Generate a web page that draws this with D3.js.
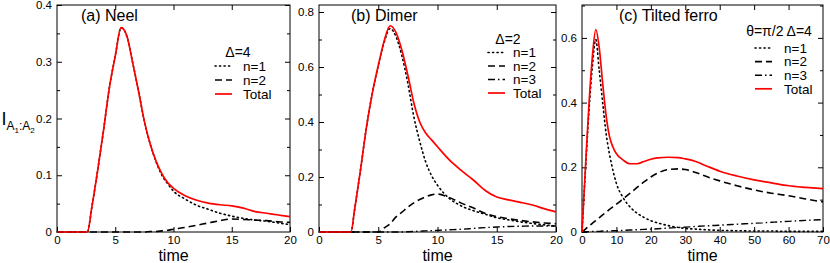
<!DOCTYPE html>
<html>
<head>
<meta charset="utf-8">
<style>
  body { margin: 0; background: #fff; }
  svg text { font-family: "Liberation Sans", Arial, Helvetica, sans-serif; fill: #000; }
</style>
</head>
<body>
<script src="https://cdn.jsdelivr.net/npm/d3@7"></script>
<script>
// ---- data ----
// (a) Neel, Delta=4
var tA = [0, 1, 2, 2.6, 3, 3.5, 4, 4.5, 5, 5.5, 6, 6.5, 7, 7.5, 8, 8.5, 9, 9.5, 10, 11, 12, 13, 14, 15, 16, 17, 18, 19, 20];
var aTotal = [0, 0, 0, 0, 0.045, 0.11, 0.18, 0.255, 0.31, 0.36, 0.345, 0.298, 0.248, 0.195, 0.155, 0.125, 0.103, 0.087, 0.077, 0.064, 0.056, 0.051, 0.048, 0.046, 0.042, 0.036, 0.033, 0.030, 0.027];
var aN1 = [0, 0, 0, 0, 0.045, 0.11, 0.18, 0.255, 0.31, 0.36, 0.345, 0.298, 0.248, 0.195, 0.155, 0.124, 0.1, 0.085, 0.072, 0.058, 0.047, 0.040, 0.033, 0.028, 0.024, 0.021, 0.019, 0.016, 0.013];
var aN2 = [0, 0, 0, 0, 0, 0, 0, 0, 0, 0, 0, 0, 0, 0, 0.001, 0.001, 0.002, 0.003, 0.005, 0.008, 0.012, 0.016, 0.02, 0.023, 0.022, 0.021, 0.02, 0.018, 0.017];

// (b) Dimer, Delta=2
var tB = [0, 1, 2, 2.7, 3, 3.5, 4, 4.5, 5, 5.5, 6, 6.5, 7, 7.5, 8, 8.5, 9, 9.5, 10, 11, 12, 13, 14, 15, 16, 17, 18, 19, 20];
var bTotal = [0, 0, 0, 0, 0.08, 0.225, 0.38, 0.505, 0.605, 0.695, 0.75, 0.725, 0.66, 0.57, 0.47, 0.4, 0.36, 0.335, 0.31, 0.262, 0.224, 0.19, 0.152, 0.127, 0.117, 0.108, 0.098, 0.085, 0.073];
var bN1 = [0, 0, 0, 0, 0.08, 0.225, 0.38, 0.505, 0.605, 0.69, 0.74, 0.71, 0.64, 0.54, 0.42, 0.33, 0.255, 0.205, 0.17, 0.122, 0.095, 0.078, 0.065, 0.052, 0.044, 0.037, 0.031, 0.026, 0.021];
var bN2 = [0, 0, 0, 0, 0, 0, 0, 0, 0, 0.015, 0.03, 0.055, 0.072, 0.09, 0.106, 0.118, 0.128, 0.135, 0.138, 0.125, 0.105, 0.088, 0.068, 0.056, 0.048, 0.042, 0.037, 0.033, 0.03];
var bN3 = [0, 0, 0, 0, 0, 0, 0, 0, 0, 0, 0, 0, 0, 0.001, 0.002, 0.003, 0.004, 0.005, 0.006, 0.008, 0.01, 0.013, 0.016, 0.018, 0.02, 0.021, 0.022, 0.022, 0.022];

// (c) Tilted ferro, theta=pi/2 Delta=4
var tC = [0, 1, 2, 3, 4, 5, 6, 7, 8, 9, 10, 12, 14, 16, 18, 20, 22, 25, 28, 30, 33, 36, 40, 45, 50, 55, 60, 65, 70];
var cTotal = [0, 0.2, 0.39, 0.54, 0.626, 0.57, 0.46, 0.36, 0.295, 0.262, 0.242, 0.222, 0.211, 0.211, 0.218, 0.225, 0.229, 0.231, 0.23, 0.226, 0.218, 0.205, 0.188, 0.173, 0.161, 0.152, 0.143, 0.138, 0.134];
var cN1 = [0, 0.19, 0.37, 0.51, 0.595, 0.5, 0.4, 0.305, 0.24, 0.19, 0.15, 0.105, 0.077, 0.058, 0.045, 0.035, 0.028, 0.02, 0.014, 0.011, 0.009, 0.007, 0.005, 0.004, 0.003, 0.003, 0.002, 0.002, 0.002];
var cN2 = [0, 0.009, 0.018, 0.027, 0.035, 0.044, 0.053, 0.061, 0.07, 0.078, 0.086, 0.103, 0.12, 0.138, 0.155, 0.17, 0.182, 0.193, 0.195, 0.193, 0.184, 0.172, 0.158, 0.143, 0.13, 0.12, 0.112, 0.102, 0.093];
var cN3 = [0, 0.001, 0.001, 0.002, 0.002, 0.002, 0.003, 0.003, 0.003, 0.004, 0.004, 0.005, 0.006, 0.007, 0.008, 0.009, 0.010, 0.012, 0.014, 0.015, 0.017, 0.019, 0.021, 0.024, 0.027, 0.030, 0.033, 0.036, 0.038];

var titles = ["(a) Neel", "(b) Dimer", "(c) Tilted ferro"];
var legendHeads = ["\u0394=4", "\u0394=2", "\u03b8=\u03c0/2 \u0394=4"];

// ---- styles ----
var styles = {
  n1: { stroke: "#000", width: 1.6, dash: "1.2,3.3", cap: "round" },
  n2: { stroke: "#000", width: 1.6, dash: "7,4", cap: "butt" },
  n3: { stroke: "#000", width: 1.4, dash: "7,3,1.5,3", cap: "butt" },
  total: { stroke: "#ff0000", width: 1.7, dash: null, cap: "butt" }
};
var labels = { n1: "n=1", n2: "n=2", n3: "n=3", total: "Total" };

var panels = [
  { left: 57, right: 290, top: 5, bottom: 232, xmax: 20, xstep: 5, ymax: 0.4, ystep: 0.1, yfmt: function(d){ return d === 0 ? "0" : d.toFixed(1); },
    t: tA, series: [["n1", aN1], ["n2", aN2], ["total", aTotal]],
    title: titles[0], titleX: 81,
    legend: { head: legendHeads[0], headX: 238, headY: 52, lineX: 215, textX: 240, y0: 66, dy: 14 } },
  { left: 319, right: 556, top: 5, bottom: 232, xmax: 20, xstep: 5, ymax: 0.8255, ystep: 0.2, yfmt: function(d){ return d === 0 ? "0" : d.toFixed(1); },
    t: tB, series: [["n1", bN1], ["n2", bN2], ["n3", bN3], ["total", bTotal]],
    title: titles[1], titleX: 351,
    legend: { head: legendHeads[1], headX: 508, headY: 39, lineX: 488, textX: 510, y0: 52.5, dy: 13.5 } },
  { left: 582, right: 823, top: 5, bottom: 232, xmax: 70, xstep: 10, ymax: 0.7017, ystep: 0.2, yfmt: function(d){ return d === 0 ? "0" : d.toFixed(1); },
    t: tC, series: [["n1", cN1], ["n2", cN2], ["n3", cN3], ["total", cTotal]],
    title: titles[2], titleX: 619,
    legend: { head: legendHeads[2], headX: 779, headY: 31, lineX: 755, textX: 781, y0: 48, dy: 13.6 } }
];

var W = 830, H = 263;
var svg = d3.select("body").append("svg")
    .attr("width", W)
    .attr("height", H);

panels.forEach(function(p) {
  var x = d3.scaleLinear().domain([0, p.xmax]).range([p.left, p.right]);
  var y = d3.scaleLinear().domain([0, p.ymax]).range([p.bottom, p.top]);
  var g = svg.append("g");

  var xt = d3.range(0, p.xmax + 1e-9, p.xstep);
  var yt = d3.range(0, p.ymax + 1e-9, p.ystep);
  var ytMinor = d3.range(p.ystep / 2, p.ymax, p.ystep);

  // frame
  g.append("rect")
      .attr("x", p.left).attr("y", p.top)
      .attr("width", p.right - p.left).attr("height", p.bottom - p.top)
      .attr("fill", "none").attr("stroke", "#000").attr("stroke-width", 1);

  // axes (ticks inside)
  var axB = d3.axisBottom(x).tickValues(xt).tickSize(-5).tickPadding(4).tickFormat(d3.format("d"));
  var axT = d3.axisTop(x).tickValues(xt.slice(1, -1)).tickSize(-5).tickFormat("");
  var axL = d3.axisLeft(y).tickValues(yt).tickSize(-5).tickPadding(5).tickFormat(p.yfmt);
  var axR = d3.axisRight(y).tickValues(yt.slice(1)).tickSize(-5).tickFormat("");
  var axLm = d3.axisLeft(y).tickValues(ytMinor).tickSize(-3).tickFormat("");
  var axRm = d3.axisRight(y).tickValues(ytMinor).tickSize(-3).tickFormat("");

  [[axB, 0, p.bottom], [axT, 0, p.top], [axL, p.left, 0], [axR, p.right, 0], [axLm, p.left, 0], [axRm, p.right, 0]].forEach(function(a) {
    var ag = g.append("g").attr("transform", "translate(" + a[1] + "," + a[2] + ")").call(a[0]);
    ag.select(".domain").remove();
    ag.selectAll("line").attr("stroke", "#000").attr("stroke-width", 1);
    ag.selectAll("text").attr("font-size", 11.5).attr("fill", "#000")
      .attr("font-family", "Liberation Sans, Arial, sans-serif");
  });

  // x label
  g.append("text")
      .attr("x", (p.left + p.right) / 2).attr("y", 260.5)
      .attr("text-anchor", "middle").attr("font-size", 16)
      .text("time");

  // title
  g.append("text")
      .attr("x", p.titleX).attr("y", 21)
      .attr("font-size", 16)
      .text(p.title);

  // curves
  var line = d3.line()
      .x(function(d) { return x(d[0]); })
      .y(function(d) { return y(d[1]); })
      .curve(d3.curveMonotoneX);

  p.series.forEach(function(s) {
    var st = styles[s[0]];
    var pts = p.t.map(function(t, i) { return [t, s[1][i]]; });
    g.append("path")
        .datum(pts)
        .attr("d", line)
        .attr("fill", "none")
        .attr("stroke", st.stroke)
        .attr("stroke-width", st.width)
        .attr("stroke-linecap", st.cap)
        .attr("stroke-dasharray", st.dash);
  });

  // legend
  var L = p.legend;
  g.append("text")
      .attr("x", L.headX).attr("y", L.headY)
      .attr("dy", "0.35em")
      .attr("text-anchor", "middle").attr("font-size", 14)
      .text(L.head);
  p.series.forEach(function(s, i) {
    var st = styles[s[0]];
    var yy = L.y0 + i * L.dy;
    g.append("line")
        .attr("x1", L.lineX).attr("x2", L.lineX + 17)
        .attr("y1", yy).attr("y2", yy)
        .attr("stroke", st.stroke)
        .attr("stroke-width", st.width)
        .attr("stroke-linecap", st.cap)
        .attr("stroke-dasharray", st.dash);
    g.append("text")
        .attr("x", L.textX + 3).attr("y", yy)
        .attr("dy", "0.35em")
        .attr("font-size", 13.5)
        .text(labels[s[0]]);
  });
});

// y label: I_{A1:A2}
var yl = svg.append("text").attr("x", 1.5).attr("y", 125).attr("font-size", 18);
yl.append("tspan").text("I");
yl.append("tspan").attr("font-size", 12).attr("dy", 5).text("A");
yl.append("tspan").attr("font-size", 8).attr("dy", 3).text("1");
yl.append("tspan").attr("font-size", 12).attr("dy", -3).text(":A");
yl.append("tspan").attr("font-size", 8).attr("dy", 3).text("2");
</script>
</body>
</html>
